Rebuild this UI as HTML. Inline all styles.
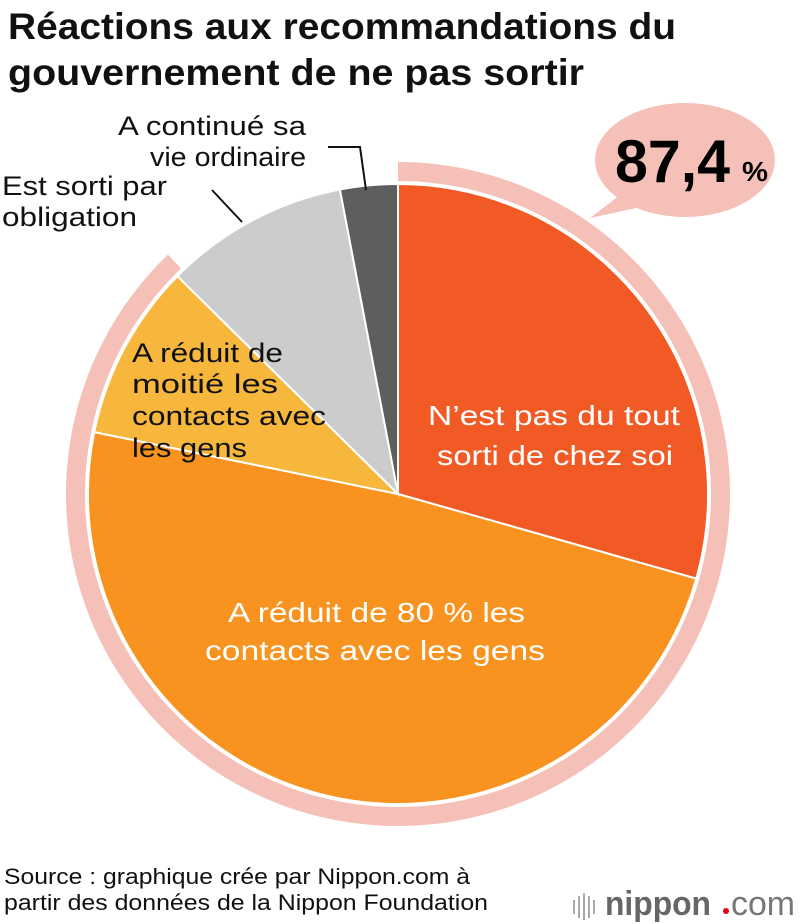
<!DOCTYPE html>
<html><head><meta charset="utf-8"><style>
body{margin:0;background:#fff;font-family:"Liberation Sans",sans-serif}
svg{display:block}
</style></head><body>
<svg width="800" height="924" viewBox="0 0 800 924">
<text x="8" y="39" font-size="37" font-weight="bold" fill="#111" textLength="668" lengthAdjust="spacingAndGlyphs">Réactions aux recommandations du</text>
<text x="8" y="85" font-size="37" font-weight="bold" fill="#111" textLength="576" lengthAdjust="spacingAndGlyphs">gouvernement de ne pas sortir</text>
<g id="ring"></g>
<g id="slices"></g>
<g>
<ellipse cx="685" cy="160" rx="90" ry="57" fill="#f5c0b8"/>
<polygon points="620,195 590,218 650,205" fill="#f5c0b8"/>
<text x="615" y="182" font-size="60" font-weight="bold" fill="#000" textLength="115" lengthAdjust="spacingAndGlyphs">87,4</text>
<text x="742" y="181" font-size="28" font-weight="bold" fill="#000" textLength="26" lengthAdjust="spacingAndGlyphs">%</text>
</g>
<g font-size="28" fill="#fff" lengthAdjust="spacingAndGlyphs">
<text x="428" y="425" textLength="252" lengthAdjust="spacingAndGlyphs">N’est pas du tout</text>
<text x="437" y="465" textLength="236" lengthAdjust="spacingAndGlyphs">sorti de chez soi</text>
<text x="228" y="622" textLength="297" lengthAdjust="spacingAndGlyphs">A réduit de 80 % les</text>
<text x="205" y="660" textLength="340" lengthAdjust="spacingAndGlyphs">contacts avec les gens</text>
</g>
<g font-size="27" fill="#111">
<text x="132" y="362" textLength="151" lengthAdjust="spacingAndGlyphs">A réduit de</text>
<text x="132" y="393" textLength="146" lengthAdjust="spacingAndGlyphs">moitié les</text>
<text x="132" y="425" textLength="194" lengthAdjust="spacingAndGlyphs">contacts avec</text>
<text x="132" y="457" textLength="115" lengthAdjust="spacingAndGlyphs">les gens</text>
<text x="2" y="195" textLength="165" lengthAdjust="spacingAndGlyphs">Est sorti par</text>
<text x="2" y="226" textLength="135" lengthAdjust="spacingAndGlyphs">obligation</text>
<text x="118" y="135" textLength="188" lengthAdjust="spacingAndGlyphs">A continué sa</text>
<text x="150" y="166" textLength="156" lengthAdjust="spacingAndGlyphs">vie ordinaire</text>
</g>
<polyline points="212,190 242,222" fill="none" stroke="#111" stroke-width="2"/>
<polyline points="328,147 360,147 366,190" fill="none" stroke="#111" stroke-width="2"/>
<text x="4" y="884" font-size="22" fill="#111" textLength="466" lengthAdjust="spacingAndGlyphs">Source : graphique crée par Nippon.com à</text>
<text x="4" y="910" font-size="22" fill="#111" textLength="484" lengthAdjust="spacingAndGlyphs">partir des données de la Nippon Foundation</text>
<g>
<g stroke="#aaa" stroke-width="2"><line x1="574" y1="900" x2="574" y2="914"/><line x1="579" y1="896" x2="579" y2="918"/><line x1="584" y1="893" x2="584" y2="920"/><line x1="589" y1="896" x2="589" y2="918"/><line x1="594" y1="900" x2="594" y2="914"/></g>
<text x="605" y="915" font-size="34" font-weight="bold" fill="#666" textLength="106" lengthAdjust="spacingAndGlyphs">nippon</text>
<circle cx="726" cy="911" r="3" fill="#e60012"/>
<text x="731" y="915" font-size="34" fill="#777" textLength="64" lengthAdjust="spacingAndGlyphs">com</text>
</g>
</svg>
<script>
const categories=["N'est pas du tout sorti de chez soi","A réduit de 80 % les contacts avec les gens","A réduit de moitié les contacts avec les gens","Est sorti par obligation","A continué sa vie ordinaire"];
const values=[29.4,48.8,9.2,9.6,3.0];
const colors=["#f15a24","#f7931e","#f6b73c","#cccccc","#5e5e5e"];
const ringCount=3;
const cx=398,cy=494,r=310;
const NS="http://www.w3.org/2000/svg";
function pt(a,rad){const t=a*Math.PI/180;return [cx+rad*Math.sin(t),cy-rad*Math.cos(t)];}
function ang(v){return v/values.reduce((s,x)=>s+x,0)*360;}
const g=document.getElementById('slices');
let a0=0;
values.forEach((v,i)=>{
 const a1=a0+ang(v);
 const p0=pt(a0,r),p1=pt(a1,r);
 const p=document.createElementNS(NS,'path');
 p.setAttribute('d',`M${cx},${cy}L${p0[0]},${p0[1]}A${r},${r} 0 ${a1-a0>180?1:0} 1 ${p1[0]},${p1[1]}Z`);
 p.setAttribute('fill',colors[i]);p.setAttribute('stroke','#fff');p.setAttribute('stroke-width','2');
 
 
 g.appendChild(p);a0=a1;
});
let tot=0;for(let i=0;i<ringCount;i++)tot+=ang(values[i]);
const ri=313,ro=332,e=tot+1.5;
const q0=pt(0,ro),q1=pt(e,ro),q2=pt(e,ri),q3=pt(0,ri);
const ring=document.createElementNS(NS,'path');
ring.setAttribute('d',`M${q0[0]},${q0[1]}A${ro},${ro} 0 ${e>180?1:0} 1 ${q1[0]},${q1[1]}L${q2[0]},${q2[1]}A${ri},${ri} 0 ${e>180?1:0} 0 ${q3[0]},${q3[1]}Z`);
ring.setAttribute('fill','#f5c0b8');


document.getElementById('ring').appendChild(ring);
</script>
</body></html>
